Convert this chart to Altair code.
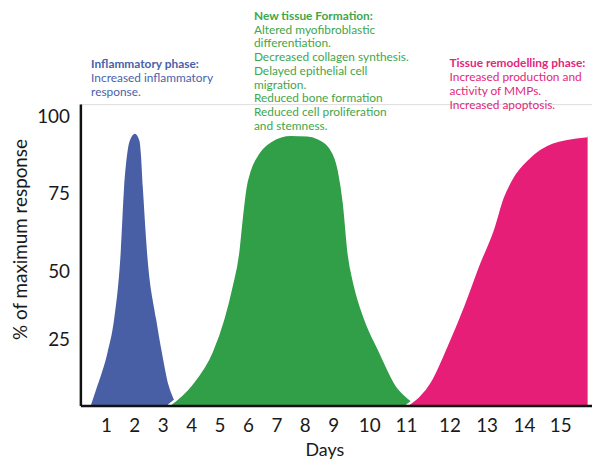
import altair as alt
import pandas as pd

# ---- data ----
days = list(range(1, 16))
y_ticks = [25, 50, 75, 100]

inflam_day = [0.48, 0.71, 1.06, 1.29, 1.52, 1.64, 1.75, 1.84, 2.02, 2.18, 2.23, 2.30, 2.45, 2.77, 2.97, 3.21, 3.38, 3.49]
inflam_val = [0, 7.5, 20.1, 32.4, 56.0, 76.9, 88.0, 92.2, 94.5, 92.2, 88.0, 76.9, 56.0, 32.4, 20.1, 7.5, 2.6, 0]

tissue_day = [3.21, 3.97, 4.72, 5.13, 5.42, 5.65, 5.77, 5.91, 6.06, 6.35, 6.81, 7.51, 8.09, 8.44, 8.90, 9.16, 9.30, 9.43, 9.61, 9.89, 10.30, 10.75, 11.08, 11.29]
tissue_val = [0, 7.5, 20.1, 32.4, 44.5, 56.0, 66.5, 76.9, 82.5, 88.0, 92.2, 94.2, 94.0, 93.2, 89.9, 82.5, 71.8, 56.0, 44.5, 32.4, 20.1, 7.5, 2.6, 0]

remod_day = [11.02, 11.55, 11.93, 12.36, 12.80, 13.16, 13.43, 13.69, 14.14, 14.77, 15.75]
remod_val = [0, 9.0, 22.4, 37.1, 52.8, 63.3, 73.7, 80.2, 86.7, 91.6, 93.8]

headers = ["Inflammatory phase:", "New tissue Formation:", "Tissue remodelling phase:"]
notes = [
    ["Increased inflammatory", "response."],
    ["Altered myofibroblastic", "differentiation.", "Decreased collagen synthesis.",
     "Delayed epithelial cell", "migration.", "Reduced bone formation",
     "Reduced cell proliferation", "and stemness."],
    ["Increased production and", "activity of MMPs.", "Increased apoptosis."],
]
note_day = [0.49, 6.21, 12.0]
note_level = [115.9, 131.7, 116.2]

fill_colors = ["#485EA5", "#319E48", "#E61E78"]
text_colors = ["#4A5FAA", "#3FA64B", "#E2277C"]

FONT = "Lato"
W, H = 516, 304
LH = 13.9

# hand-drawn, uneven axis spacing -> piecewise linear scales
x_scale = alt.Scale(
    domain=[0.12] + days + [15.87],
    range=[0, 25.7, 54.4, 83, 111.7, 140.3, 169, 197.7, 226.3, 255,
           291.3, 328.3, 372.3, 409.7, 447.3, 484, W],
    zero=False, nice=False,
)
y_scale = alt.Scale(
    domain=[0, 25, 50, 75, 100, 104.2],
    range=[H, 237, 169, 90, 13, 0],
    zero=False, nice=False,
)

x_axis = alt.Axis(
    values=days, title="Days", grid=False, ticks=False, tickSize=0,
    labelFont=FONT, labelFontSize=19, labelColor="#1a1a1a", labelPadding=11,
    labelFlush=False, labelOverlap=False, labelBound=False,
    domainColor="#111", domainWidth=2.5,
    titleFont=FONT, titleFontSize=18, titleFontWeight="normal", titleColor="#1a1a1a",
    titleX=246, titleY=50, titleBaseline="alphabetic", zindex=1,
)
y_axis = alt.Axis(
    values=y_ticks, title="% of maximum response", grid=False, ticks=False, tickSize=0,
    labelFont=FONT, labelFontSize=19, labelColor="#1a1a1a", labelPadding=11,
    labelOverlap=False, labelFlush=False, labelBound=False,
    domainColor="#111", domainWidth=2.5,
    titleFont=FONT, titleFontSize=19, titleFontWeight="normal", titleColor="#1a1a1a",
    titleX=-60, titleY=136, titleBaseline="middle", titleAngle=-90, zindex=1,
)

X = lambda: alt.X("day:Q", scale=x_scale, axis=x_axis)
Y = lambda: alt.Y("pct:Q", scale=y_scale, axis=y_axis)

series = [(inflam_day, inflam_val), (tissue_day, tissue_val), (remod_day, remod_val)]

layers = []
for i, (d, v) in enumerate(series):
    df = pd.DataFrame({"day": d, "pct": v})
    base = alt.Chart(df).encode(x=X(), y=Y())
    layers.append(base.mark_area(interpolate="monotone", color=fill_colors[i], clip=False))
    if i > 0:
        layers.append(base.mark_line(interpolate="monotone", color="white", strokeWidth=2.5))

for i in range(3):
    hdf = pd.DataFrame({"day": [note_day[i]], "pct": [note_level[i]], "txt": [headers[i]]})
    ndf = pd.DataFrame({"day": [note_day[i]], "pct": [note_level[i]], "txt": [notes[i]]})
    layers.append(
        alt.Chart(hdf).mark_text(align="left", baseline="alphabetic", font=FONT, fontSize=12,
                                 fontWeight="bold", color=text_colors[i])
        .encode(x=X(), y=Y(), text="txt")
    )
    layers.append(
        alt.Chart(ndf).mark_text(align="left", baseline="alphabetic", font=FONT, fontSize=12,
                                 lineHeight=LH, dy=LH, color=text_colors[i])
        .encode(x=X(), y=Y(), text="txt")
    )

chart = (
    alt.layer(*layers)
    .properties(
        width=W, height=H,
        autosize=alt.AutoSizeParams(type="none"),
        padding={"left": 73, "top": 95, "right": 0, "bottom": 55},
    )
    .configure_view(stroke=None)
    .configure_axis(labelOverlap=False)
    .configure(background="white")
)

chart.save("out.html", embed_options={"renderer": "svg", "actions": False})
